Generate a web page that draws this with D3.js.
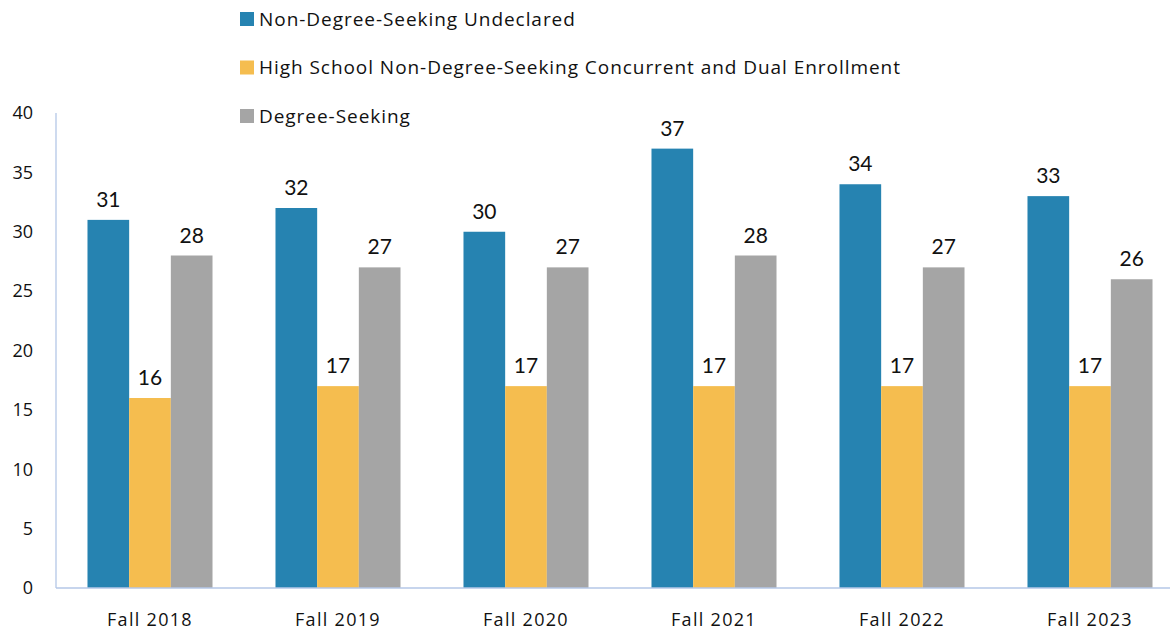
<!DOCTYPE html>
<html>
<head>
<meta charset="utf-8">
<script src="https://cdn.jsdelivr.net/npm/d3@7"></script>
<style>
  body { margin: 0; background: #fff; }
  svg { display: block; }
</style>
</head>
<body>
<div id="chart"></div>
<script>
  // Dados
  const terms = ["Fall 2018", "Fall 2019", "Fall 2020", "Fall 2021", "Fall 2022", "Fall 2023"];
  const seriesNames = [
    "Non-Degree-Seeking Undeclared",
    "High School Non-Degree-Seeking Concurrent and Dual Enrollment",
    "Degree-Seeking"
  ];
  const undeclared = [31, 32, 30, 37, 34, 33];
  const highSchool = [16, 17, 17, 17, 17, 17];
  const degreeSeeking = [28, 27, 27, 28, 27, 26];
  const yTicks = [0, 5, 10, 15, 20, 25, 30, 35, 40];
  const colors = ["#2683b1", "#f5bd4f", "#a5a5a5"];

  const width = 1172, height = 630;
  const margin = { top: 113, bottom: 42, left: 56 };
  const plotRight = 1184; // a ultima categoria passa um pouco da borda
  const axisRight = 1170;

  const svg = d3.select("#chart").append("svg")
    .attr("width", width).attr("height", height);

  const x = d3.scaleBand()
    .domain(terms)
    .range([margin.left, plotRight])
    .paddingInner(0.335).paddingOuter(0.1675);

  const xs = d3.scaleBand()
    .domain(d3.range(3))
    .range([0, x.bandwidth()]);

  const y = d3.scaleLinear()
    .domain([0, 40])
    .range([height - margin.bottom, margin.top]);

  const rows = terms.map((t, i) => ({
    term: t,
    values: [undeclared[i], highSchool[i], degreeSeeking[i]]
  }));

  // Bars
  const groups = svg.append("g")
    .selectAll("g")
    .data(rows)
    .join("g")
    .attr("transform", d => `translate(${x(d.term)},0)`);

  groups.selectAll("rect")
    .data(d => d.values.map((v, k) => ({ v, k })))
    .join("rect")
    .attr("x", d => xs(d.k))
    .attr("y", d => y(d.v))
    .attr("width", xs.bandwidth())
    .attr("height", d => y(0) - y(d.v))
    .attr("fill", d => colors[d.k]);

  groups.selectAll("text")
    .data(d => d.values.map((v, k) => ({ v, k })))
    .join("text")
    .attr("x", d => xs(d.k) + xs.bandwidth() / 2)
    .attr("y", d => y(d.v) - 13)
    .attr("text-anchor", "middle")
    .attr("font-family", "Lato, 'Open Sans', sans-serif")
    .attr("font-size", "21px")
    .attr("fill", "#111")
    .text(d => d.v);

  // Axes lines
  const axisColor = "#b4c7e7";
  svg.append("line")
    .attr("x1", margin.left).attr("x2", margin.left)
    .attr("y1", y(40)).attr("y2", y(0))
    .attr("stroke", axisColor).attr("stroke-width", 1.3);
  svg.append("line")
    .attr("x1", margin.left).attr("x2", axisRight)
    .attr("y1", y(0)).attr("y2", y(0))
    .attr("stroke", axisColor).attr("stroke-width", 1.3);

  // Y tick labels
  svg.append("g")
    .selectAll("text")
    .data(yTicks)
    .join("text")
    .attr("x", 33)
    .attr("y", d => y(d))
    .attr("dy", "0.35em")
    .attr("text-anchor", "end")
    .attr("font-family", "'Open Sans', sans-serif")
    .attr("font-size", "18px")
    .attr("fill", "#111")
    .text(d => d);

  // X labels
  svg.append("g")
    .selectAll("text")
    .data(terms)
    .join("text")
    .attr("x", d => x(d) + x.bandwidth() / 2)
    .attr("y", 626)
    .attr("text-anchor", "middle")
    .attr("font-family", "'Open Sans', sans-serif")
    .attr("font-size", "18px")
    .attr("letter-spacing", "1.3px")
    .attr("fill", "#111")
    .text(d => d);

  // Legend
  const legend = svg.append("g")
    .selectAll("g")
    .data(seriesNames)
    .join("g")
    .attr("transform", (d, i) => `translate(240,${19 + i * 48.5})`);

  legend.append("rect")
    .attr("x", 0).attr("y", -7)
    .attr("width", 14).attr("height", 14)
    .attr("fill", (d, i) => colors[i]);

  legend.append("text")
    .attr("x", 19).attr("y", 0)
    .attr("dy", "0.35em")
    .attr("font-family", "'Open Sans', sans-serif")
    .attr("font-size", "19px")
    .attr("letter-spacing", "0.95px")
    .attr("fill", "#111")
    .text(d => d);
</script>
</body>
</html>
